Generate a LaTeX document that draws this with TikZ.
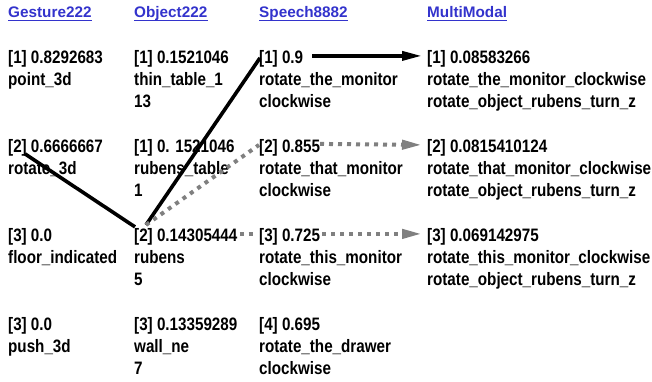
\documentclass[tikz,border=0pt]{standalone}
\usepackage{fontspec}
\usetikzlibrary{calc,arrows.meta}
\newfontfamily\cellfont{Liberation Sans}[FakeStretch=0.845]
\newfontfamily\headfont{Liberation Sans}
\definecolor{headblue}{RGB}{51,51,204}
\definecolor{linkgray}{RGB}{128,128,128}

\begin{document}
\begin{tikzpicture}
        [x=1pt,y=-1pt,
         every node/.style={anchor=north west,inner sep=0pt,align=left,
           font=\cellfont\bfseries\fontsize{18}{22.3}\selectfont},
         head/.style={anchor=base west,text=headblue,
           font=\headfont\bfseries\fontsize{15.3}{18}\selectfont},
         strong/.style={line width=3.6pt},
         weak/.style={line width=4pt,linkgray,dash pattern=on 4pt off 5pt},
         tip/.style={-{Triangle[length=20pt,width=9pt]}}]
        \useasboundingbox (0,0) rectangle (652,381);

        % headers
        \node[head] (HG) at (8,17)      {Gesture222};
        \node[head] (HO) at (134,17)    {Object222};
        \node[head] (HS) at (259,17)    {Speech8882};
        \node[head] (HM) at (427,17)    {MultiModal};
        \foreach \h in {HG,HO,HS,HM}
            \draw[headblue,line width=1.5pt]
            ([yshift=-3.4pt]\h.base west) -- ([yshift=-3.4pt]\h.base east);

        % Gesture
        \node (G1) at (8,49.9)    {[1] 0.8292683\\point\_3d};
        \node (G2) at (8,138.9)   {[2] 0.6666667\\rotate\_3d};
        \node (G3) at (8,227.9)   {[3] 0.0\\floor\_indicated};
        \node (G4) at (8,316.9)   {[3] 0.0\\push\_3d};

        % Object
        \node (O1) at (134,49.9)  {[1] 0.1521046\\thin\_table\_1\\13};
        \node (O2) at (134,138.9) {[1] 0. 1521046\\rubens\_table\\1};
        \node (O3) at (134,227.9) {[2] 0.14305444\\rubens\\5};
        \node (O4) at (134,316.9) {[3] 0.13359289\\wall\_ne\\7};

        % Speech
        \node (S1) at (259,49.9)  {[1] 0.9\\rotate\_the\_monitor\\clockwise};
        \node (S2) at (259,138.9) {[2] 0.855\\rotate\_that\_monitor\\clockwise};
        \node (S3) at (259,227.9) {[3] 0.725\\rotate\_this\_monitor\\clockwise};
        \node (S4) at (259,316.9) {[4] 0.695\\rotate\_the\_drawer\\clockwise};

        % MultiModal
        \node (M1) at (427,49.9)  {[1] 0.08583266\\rotate\_the\_monitor\_clockwise\\rotate\_object\_rubens\_turn\_z};
        \node (M2) at (427,138.9) {[2] 0.0815410124\\rotate\_that\_monitor\_clockwise\\rotate\_object\_rubens\_turn\_z};
        \node (M3) at (427,227.9) {[3] 0.069142975\\rotate\_this\_monitor\_clockwise\\rotate\_object\_rubens\_turn\_z};

        % link ends
        \coordinate (G2out) at ($(G2.north west)+(17,15)$);
        \coordinate (O3in)  at ($(O3.north west)+(1,-1)$);
        \coordinate (O3out) at ($(O3.north west)+(12,-3)$);
        \coordinate (O3nxt) at ($(O3.north east)+(2,6)$);
        \coordinate (S1in)  at ($(S1.north west)+(1,8)$);
        \coordinate (S2in)  at ($(S2.north west)+(0,6)$);
        \coordinate (S3in)  at ($(S3.north west)+(-3,6)$);
        \coordinate (S1out) at ($(S1.north west)+(53,6)$);
        \coordinate (S2out) at ($(S2.north west)+(61,5)$);
        \coordinate (S3out) at ($(S3.north west)+(63,6)$);
        \coordinate (M1in)  at ($(M1.north west)+(-5,6)$);
        \coordinate (M2in)  at ($(M2.north west)+(-5,6)$);
        \coordinate (M3in)  at ($(M3.north west)+(-5,6)$);

        \draw[strong]
        (G2out)     edge        (O3in)
        (O3out)     edge        (S1in);
        \draw[strong,tip] (S1out) -- (M1in);

        \draw[weak]
        (O3out)     edge        (S2in)
        (O3nxt)     edge        (S3in);
        \draw[weak,tip] (S2out) -- (M2in);
        \draw[weak,tip] (S3out) -- (M3in);
\end{tikzpicture}
\end{document}
